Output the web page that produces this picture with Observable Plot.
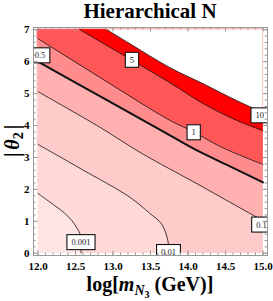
<!DOCTYPE html>
<html><head><meta charset="utf-8">
<script src="https://cdn.jsdelivr.net/npm/d3@7"></script>
<script src="https://cdn.jsdelivr.net/npm/@observablehq/plot@0.6"></script>
<style>body{margin:0;background:#fff}</style>
</head><body><div id="chart"></div>
<script>
// ---- data ----
const xRange = [12, 15];
const yRange = [0, 7];
const xTicks = [12, 12.5, 13, 13.5, 14, 14.5, 15];
const yTicks = [0, 1, 2, 3, 4, 5, 6, 7];
const levels = [0.001, 0.01, 0.1, 0.5, 1, 5, 10];
// contour lines as [log m, |theta2|]
const c0001 = [[12,1.875],[12.16,1.6],[12.337,1.29],[12.45,1.03],[12.524,0.77],[12.56,0.6],[12.572,0.3],[12.575,0]];
const c001  = [[12,3.41],[12.56,2.66],[13.227,1.75],[13.49,1.25],[13.63,0.97],[13.69,0.72],[13.73,0.41],[13.75,0]];
const c01   = [[12,5.06],[12.83,3.94],[13.36,3.16],[14.16,2.125],[14.87,1.19],[15,1.03]];
const c05   = [[12,6.0],[12.83,4.91],[13.76,3.69],[14.12,3.22],[14.56,2.72],[15,2.22]];
const c1    = [[12,6.72],[12.83,5.5],[13.76,4.16],[14.07,3.81],[14.43,3.34],[15,2.78]];
const c5    = [[12.56,7],[13.227,6.08],[13.76,5.34],[14.2,4.69],[14.65,4.16],[15,3.84]];
const c10   = [[12.92,7],[13.227,6.56],[13.76,5.81],[14.2,5.31],[14.65,4.78],[15,4.41]];
const contours = [c0001, c001, c01, c05, c1, c5, c10];
const labelText = ["0.001", "0.01", "0.1", "0.5", "1", "5", "10"];
const labelX = [12.573, 13.74, 14.98, 12.027, 14.076, 13.253, 14.956];
const labelY = [0.34, 0.03, 0.89, 6.19, 3.78, 6.05, 4.31];

// ---- styles ----
const baseColor = "#ffe4e4";
const regionColors = ["#ffd8d8", "#ffcaca", "#ffb0b0", "#ff8c8c", "#ff5757", "#ff0000", "#ffffff"];
const W = 273, H = 301, mL = 33, mR = 6, mT = 27, mB = 46;
const innerW = W - mL - mR, innerH = H - mT - mB;
const xMinor = d3.range(120, 151).map(v => v / 10);
const yMinor = d3.range(0, 36).map(v => v / 5);

const marks = [];
marks.push(Plot.rect([0], {x1: xRange[0], x2: xRange[1], y1: yRange[0], y2: yRange[1], fill: baseColor}));
contours.forEach((pts, i) => {
  const col = regionColors[i];
  marks.push(Plot.areaY(pts, {x: d => d[0], y1: d => d[1], y2: yRange[1], fill: col, stroke: col, strokeWidth: 0.5, curve: "catmull-rom"}));
  const last = pts[pts.length - 1];
  if (last[1] === yRange[0]) {
    marks.push(Plot.rect([last], {x1: d => d[0], x2: xRange[1], y1: yRange[0], y2: yRange[1], fill: col, stroke: col, strokeWidth: 0.5}));
  }
});
contours.forEach((pts, i) => {
  marks.push(Plot.line(pts, {x: d => d[0], y: d => d[1], stroke: "#111", strokeWidth: levels[i] === 0.5 ? 2 : 0.8, curve: "catmull-rom"}));
});
const labels = labelText.map((t, i) => ({t, x: labelX[i], y: labelY[i]}));
marks.push(Plot.text(labels, {x: "x", y: "y", text: "t", fontSize: 8.5, fontWeight: "normal", fill: "#222", clip: true}));
// frame & inward ticks
marks.push(Plot.frame({stroke: "#9a9a9a"}));
marks.push(Plot.tickX(xMinor, {x: d => d, insetTop: innerH - 2.5, stroke: "#999"}));
marks.push(Plot.tickX(xTicks, {x: d => d, insetTop: innerH - 4.5, stroke: "#999"}));
marks.push(Plot.tickX(xMinor, {x: d => d, insetBottom: innerH - 2.5, stroke: "#999"}));
marks.push(Plot.tickX(xTicks, {x: d => d, insetBottom: innerH - 4.5, stroke: "#999"}));
marks.push(Plot.tickY(yMinor, {y: d => d, insetRight: innerW - 2.5, stroke: "#999"}));
marks.push(Plot.tickY(yTicks, {y: d => d, insetRight: innerW - 4.5, stroke: "#999"}));
marks.push(Plot.tickY(yMinor, {y: d => d, insetLeft: innerW - 2.5, stroke: "#999"}));
marks.push(Plot.tickY(yTicks, {y: d => d, insetLeft: innerW - 4.5, stroke: "#999"}));
marks.push(Plot.axisX(xTicks, {tickSize: 0, tickPadding: 7, tickFormat: d3.format(".1f"), label: null}));
marks.push(Plot.axisY(yTicks, {tickSize: 0, tickPadding: 4, label: null}));

const plot = Plot.plot({
  width: W, height: H,
  marginLeft: mL, marginRight: mR, marginTop: mT, marginBottom: mB,
  x: {domain: [11.94, 15.06]},
  y: {domain: [-0.07, 7.07]},
  style: {fontFamily: "'Liberation Serif', serif", fontSize: "11px", fontWeight: "bold", color: "black"},
  marks
});
document.getElementById("chart").append(plot);

// boxes behind contour labels
const s = d3.select(plot);
const lg = plot.querySelector('g[aria-label="text"]');
if (lg) {
  d3.select(lg).selectAll("text").each(function () {
    const b = this.getBBox();
    const w = Math.max(b.width + 9, 12.5), h = 15;
    const cx = b.x + b.width / 2, cy = b.y + b.height / 2;
    const r = document.createElementNS("http://www.w3.org/2000/svg", "rect");
    r.setAttribute("x", cx - w / 2); r.setAttribute("y", cy - h / 2);
    r.setAttribute("width", w); r.setAttribute("height", h);
    r.setAttribute("fill", "white"); r.setAttribute("stroke", "#111"); r.setAttribute("stroke-width", 1.1);
    const tr = this.getAttribute("transform");
    if (tr) r.setAttribute("transform", tr);
    this.parentNode.insertBefore(r, this);
  });
}
// titles
s.append("text").attr("x", mL + innerW / 2).attr("y", 18).attr("text-anchor", "middle")
  .attr("font-family", "'Liberation Serif', serif").attr("font-weight", "bold").attr("font-size", 21)
  .text("Hierarchical N");
const xt = s.append("text").attr("x", mL + innerW / 2).attr("y", 291).attr("text-anchor", "middle")
  .attr("font-family", "'Liberation Serif', serif").attr("font-weight", "bold").attr("font-size", 20);
xt.append("tspan").text("log[");
xt.append("tspan").attr("font-style", "italic").text("m");
xt.append("tspan").attr("font-style", "italic").attr("font-size", 14).attr("dy", 4).text("N");
xt.append("tspan").attr("font-size", 10).attr("dy", 3).text("3");
xt.append("tspan").attr("dy", -7).text(" (GeV)]");
const yt = s.append("text").attr("transform", `translate(19,${mT + innerH / 2}) rotate(-90)`).attr("text-anchor", "middle")
  .attr("font-family", "'Liberation Serif', serif").attr("font-weight", "bold").attr("font-size", 20);
yt.append("tspan").text("|");
yt.append("tspan").attr("font-style", "italic").attr("dx", 3).text("θ");
yt.append("tspan").attr("font-size", 14).attr("dy", 4).text("2");
yt.append("tspan").attr("dy", -4).attr("dx", 3).text("|");
</script></body></html>
